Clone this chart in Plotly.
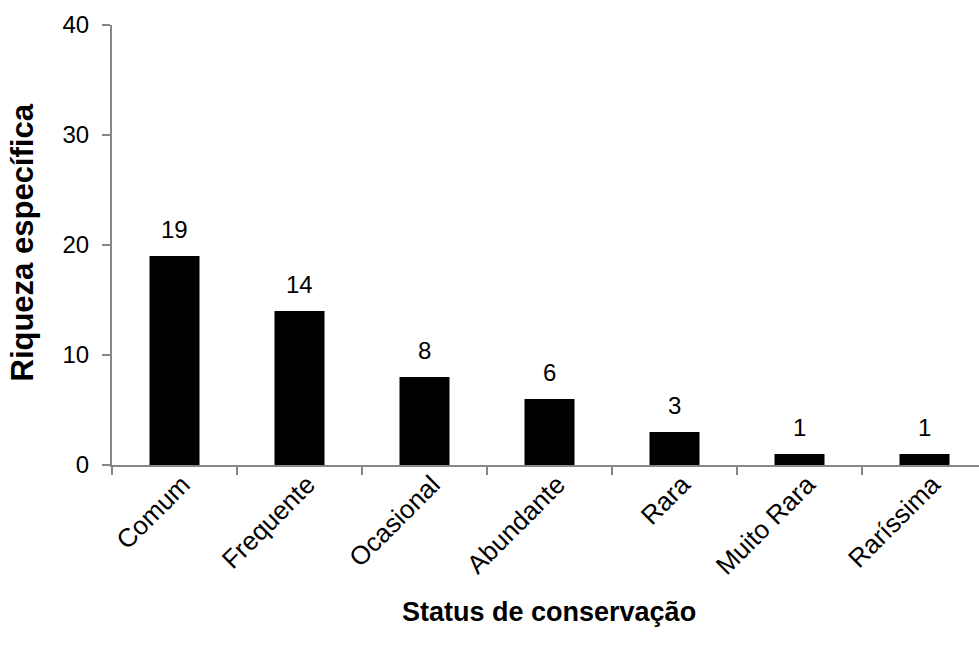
import plotly.graph_objects as go

categories = ["Comum", "Frequente", "Ocasional", "Abundante", "Rara", "Muito Rara", "Raríssima"]
values = [19, 14, 8, 6, 3, 1, 1]
y_ticks = [0, 10, 20, 30, 40]

FONT = "Arial, 'Liberation Sans', sans-serif"
AXIS_COLOR = "#868686"

fig = go.Figure()
fig.add_trace(go.Bar(
    x=categories, y=values, width=0.4,
    marker=dict(color="black", line=dict(width=0)),
    showlegend=False, hoverinfo="skip",
))

for c, v in zip(categories, values):
    fig.add_annotation(x=c, y=v, text=str(v), showarrow=False,
                       yanchor="middle", yshift=27,
                       font=dict(family=FONT, size=24, color="black"))

fig.add_annotation(xref="paper", yref="paper", x=-0.103, y=0.505,
                   text="<b>Riqueza específica</b>", textangle=-90, showarrow=False,
                   xanchor="center", yanchor="middle",
                   font=dict(family=FONT, size=31, color="black"))
fig.add_annotation(xref="paper", yref="paper", x=(549 - 112) / 867, y=-0.335,
                   text="<b>Status de conservação</b>", showarrow=False,
                   xanchor="center", yanchor="middle",
                   font=dict(family=FONT, size=27, color="black"))

fig.update_layout(
    width=979, height=652,
    margin=dict(l=112, r=0, t=25, b=187),
    paper_bgcolor="white", plot_bgcolor="white",
    font=dict(family=FONT, size=24, color="black"),
    bargap=0.6,
)
fig.update_xaxes(
    type="category", range=[-0.5, 6.436],
    showline=True, linecolor=AXIS_COLOR, linewidth=2,
    ticks="outside", tickson="boundaries", ticklen=8, tickcolor=AXIS_COLOR, tickwidth=2,
    tickangle=-45, showgrid=False, zeroline=False,
    ticklabelshift=8, ticklabelstandoff=-8,
    tickfont=dict(family=FONT, size=26, color="black"),
)
fig.update_yaxes(
    range=[0, 40], tickvals=y_ticks, ticklabelstandoff=8,
    showline=True, linecolor=AXIS_COLOR, linewidth=2,
    ticks="outside", ticklen=8, tickcolor=AXIS_COLOR, tickwidth=2,
    showgrid=False, zeroline=False,
    tickfont=dict(family=FONT, size=24, color="black"),
)

fig.write_html("out.html")
